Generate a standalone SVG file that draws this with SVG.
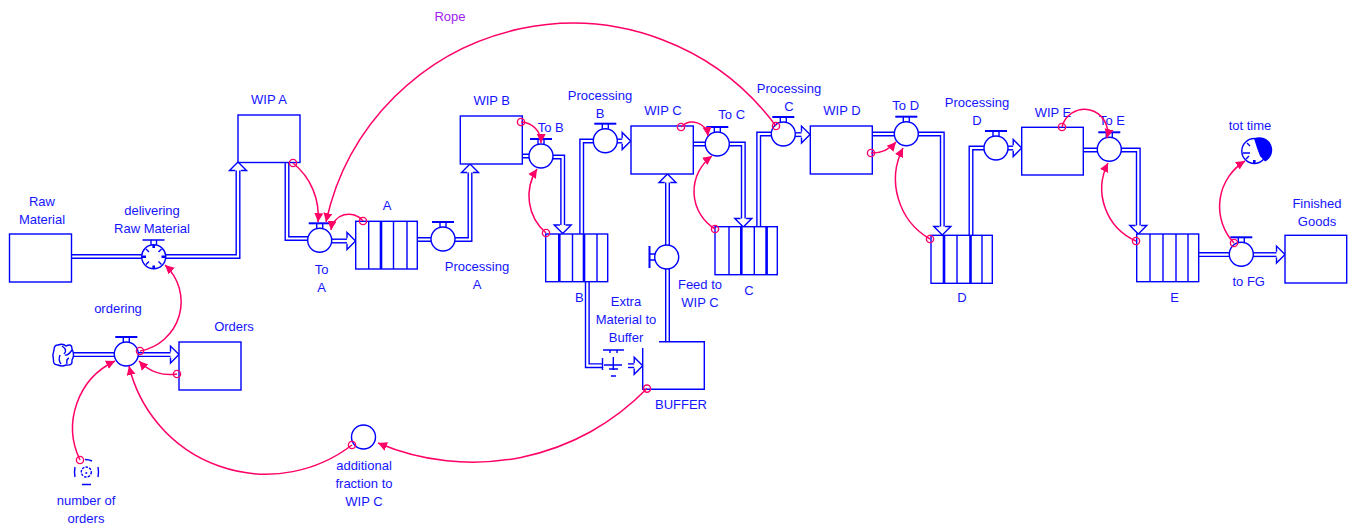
<svg xmlns="http://www.w3.org/2000/svg" xmlns:xlink="http://www.w3.org/1999/xlink" width="1351" height="525" viewBox="0 0 1351 525">
<style>
text{font-family:"Liberation Sans",Arial,sans-serif;font-size:13px;fill:#1414ff;text-anchor:middle}
.s{fill:#fff;stroke:#0000ff;stroke-width:1.4}
.n{fill:none;stroke:#0000ff;stroke-width:1.4}
.t{fill:none;stroke:#0000ff;stroke-width:2.6}
.po{fill:none;stroke:#0000ff;stroke-width:5}
.pi{fill:none;stroke:#fff;stroke-width:2.2}
.l{fill:none;stroke:#ff0066;stroke-width:1.5;marker-start:url(#o);marker-end:url(#a)}
</style>
<defs>
<marker id="a" markerUnits="userSpaceOnUse" markerWidth="12" markerHeight="12" refX="9" refY="5" orient="auto"><path d="M0 0.500L9 5L0 9.500z" fill="#ff0066"/></marker>
<marker id="o" markerUnits="userSpaceOnUse" markerWidth="10" markerHeight="10" refX="5" refY="5"><circle cx="5" cy="5" r="3.600" fill="none" stroke="#ff0066" stroke-width="1.400"/></marker>
<path id="h" class="s" d="M-8.500-2.800V-8.500L0 0L-8.500 8.500V2.800"/>
<g id="vt"><circle class="s" r="12"/><path class="n" d="M-3-12V-17M3-12V-17"/><path class="n" style="stroke-width:2" d="M-11-17H11"/></g>
</defs>
<g id="connectors">
<g class="po">
<path d="M72 256.500H238V168"/><path d="M287 162V238.500H310"/><path d="M330 241H349"/><path d="M417 239.500H470V170"/><path d="M522 156H532M550 157H562.700V227"/><path d="M581.700 234V141H596"/><path d="M615 141H624"/><path d="M693 144H708M727 144H743.300V221"/><path d="M758.700 227V134H772"/><path d="M793 134.600H803"/><path d="M872 134H896M916 134H942.300V229"/><path d="M971 235V148H986"/><path d="M1006 148H1015"/><path d="M1083 150H1100M1118 150H1138.300V228"/><path d="M1199 254.600H1232"/><path d="M1250 254.600H1279"/><path d="M74 354.600H116"/><path d="M136 354.600H172"/><path d="M587.300 282V365.700H602"/><path d="M628 365.700H636"/><path d="M667.500 342V180"/>
</g>
<g class="pi">
<path d="M72 256.500H238V168"/><path d="M287 162V238.500H310"/><path d="M330 241H349"/><path d="M417 239.500H470V170"/><path d="M522 156H532M550 157H562.700V227"/><path d="M581.700 234V141H596"/><path d="M615 141H624"/><path d="M693 144H708M727 144H743.300V221"/><path d="M758.700 227V134H772"/><path d="M793 134.600H803"/><path d="M872 134H896M916 134H942.300V229"/><path d="M971 235V148H986"/><path d="M1006 148H1015"/><path d="M1083 150H1100M1118 150H1138.300V228"/><path d="M1199 254.600H1232"/><path d="M1250 254.600H1279"/><path d="M74 354.600H116"/><path d="M136 354.600H172"/><path d="M587.300 282V365.700H602"/><path d="M628 365.700H636"/><path d="M667.500 342V180"/>
</g>
<use href="#h" transform="translate(238 162) rotate(-90)"/>
<use href="#h" transform="translate(355.500 241)"/>
<use href="#h" transform="translate(470 164) rotate(-90)"/>
<use href="#h" transform="translate(562.700 233.500) rotate(90)"/>
<use href="#h" transform="translate(630.700 141)"/>
<use href="#h" transform="translate(743.300 227) rotate(90)"/>
<use href="#h" transform="translate(810 134.600)"/>
<use href="#h" transform="translate(942.300 235) rotate(90)"/>
<use href="#h" transform="translate(1021.700 148)"/>
<use href="#h" transform="translate(1138.300 234) rotate(90)"/>
<use href="#h" transform="translate(1285 254.600)"/>
<use href="#h" transform="translate(179 354.600)"/>
<use href="#h" transform="translate(642.700 365.700)"/>
<use href="#h" transform="translate(667.500 174) rotate(-90)"/>
</g>
<g id="raw-material"><rect class="s" x="9.500" y="234" width="62" height="48"/><text x="42" y="206">Raw</text><text x="42" y="224">Material</text></g>
<g id="delivering"><circle class="s" cx="153.700" cy="256.700" r="12"/><path class="n" d="M151 244.700V240M156.500 244.700V240M142.500 240H164.500M146 249L149 252M161.500 249L158.500 252M146 264.500L149 261.500M161.500 264.500L158.500 261.500"/><path class="t" d="M141.700 256.700H146M161.500 256.700H165.700M153.700 244.700V248M153.700 265.500V268.700"/><text x="152" y="215">delivering</text><text x="152" y="233">Raw Material</text></g>
<g id="wip-a"><rect class="s" x="238" y="115" width="62" height="47.500"/><text x="269" y="104">WIP A</text></g>
<g id="to-a"><use href="#vt" transform="translate(319.700 240.300)"/><text x="321.700" y="274">To</text><text x="321.700" y="292">A</text></g>
<g id="a-conveyor"><rect class="s" x="355.700" y="221.300" width="61.600" height="47.700"/><path class="n" d="M368.700 221V269M393.500 221V269M407 221V269"/><path class="t" d="M381 221V269"/><text x="387" y="210">A</text></g>
<g id="processing-a"><use href="#vt" transform="translate(443 239)"/><text x="477" y="271">Processing</text><text x="477" y="289">A</text></g>
<g id="wip-b"><rect class="s" x="460.300" y="116" width="62" height="48"/><text x="491.700" y="104.700">WIP B</text></g>
<g id="to-b"><use href="#vt" transform="translate(541 156)"/><text x="550.700" y="132">To B</text></g>
<g id="b-conveyor"><rect class="s" x="545.700" y="234" width="62" height="47.700"/><path class="n" d="M572.500 234V282M597 234V282"/><path class="t" d="M559.300 234V282M584 234V282"/><text x="579.300" y="301.700">B</text></g>
<g id="processing-b"><use href="#vt" transform="translate(605.300 140.700)"/><text x="600" y="100">Processing</text><text x="600" y="118">B</text></g>
<g id="wip-c"><rect class="s" x="631" y="126" width="62.300" height="48"/><text x="663" y="115">WIP C</text></g>
<g id="to-c"><use href="#vt" transform="translate(717.300 144)"/><text x="731.700" y="119">To C</text></g>
<g id="c-conveyor"><rect class="s" x="715" y="226.700" width="62.300" height="48"/><path class="n" d="M729 227V275M754.300 227V275"/><path class="t" d="M741.300 227V275M766.600 227V275"/><text x="749" y="294.700">C</text></g>
<g id="processing-c"><use href="#vt" transform="translate(783.300 134)"/><text x="789" y="93">Processing</text><text x="789" y="111">C</text></g>
<g id="wip-d"><rect class="s" x="810.300" y="126" width="62" height="48"/><text x="842" y="115">WIP D</text></g>
<g id="to-d"><use href="#vt" transform="translate(906.300 133.700)"/><text x="905.700" y="110">To D</text></g>
<g id="d-conveyor"><rect class="s" x="931" y="235.300" width="61.300" height="48"/><path class="n" d="M957 235V283M982 235V283"/><path class="t" d="M944 235V283M970.500 235V283"/><text x="962" y="302">D</text></g>
<g id="processing-d"><use href="#vt" transform="translate(996 148)"/><text x="977" y="107">Processing</text><text x="977" y="125">D</text></g>
<g id="wip-e"><rect class="s" x="1021.700" y="127.300" width="61.600" height="47.700"/><text x="1053" y="117">WIP E</text></g>
<g id="to-e"><use href="#vt" transform="translate(1109.300 149.300)"/><text x="1112" y="125">To E</text></g>
<g id="e-conveyor"><rect class="s" x="1136.700" y="234" width="62" height="47.700"/><path class="n" d="M1150 234V282M1163 234V282M1176 234V282M1188 234V282"/><text x="1174.700" y="301.700">E</text></g>
<g id="to-fg"><use href="#vt" transform="translate(1241.300 254.300)"/><text x="1248.700" y="285.700">to FG</text></g>
<g id="finished-goods"><rect class="s" x="1285" y="235.300" width="61.700" height="47.700"/><text x="1317" y="208">Finished</text><text x="1317" y="226">Goods</text></g>
<g id="tot-time"><circle class="s" cx="1254.300" cy="151" r="12.500"/><path fill="#0000ff" d="M1254 138.600A12.500 12.500 0 0 1 1265 161.500L1260 156L1257 148z"/><path class="n" d="M1243 153H1250M1247 143L1250 146M1246 159L1249 156"/><path class="t" d="M1254.300 160V163.500"/><text x="1250" y="130">tot time</text></g>
<g id="ordering"><use href="#vt" transform="translate(126.300 354)"/><text x="118" y="313">ordering</text></g>
<g id="cloud"><path class="s" d="M58 345Q63 343 66 346Q72 343 72 349Q75 355 72 360Q73 366 66 365Q62 367 58 365Q53 365 53.500 360Q52 355 54 350Q54 345 58 345z"/><path class="n" d="M62 346Q68 350 64 354M72 350Q68 356 65 355M60 355Q58 360 61 364M67 364Q66 359 69 358"/></g>
<g id="orders"><rect class="s" x="179" y="342" width="62" height="48"/><text x="234" y="331">Orders</text></g>
<g id="number-of-orders"><path class="n" d="M85 459.500Q89 459.500 92 461M75 467Q74 472 75 477M98 467Q99 472 98 477M82 484.500H91"/><circle class="n" cx="86.300" cy="472" r="5" stroke-dasharray="2.500 1.200"/><circle cx="86.300" cy="473" r="1" fill="#0000ff"/><text x="86" y="505">number of</text><text x="86" y="523">orders</text></g>
<g id="additional-fraction"><circle class="s" cx="363.500" cy="437" r="12"/><text x="364" y="470">additional</text><text x="364" y="488">fraction to</text><text x="364" y="506">WIP C</text></g>
<g id="buffer"><path class="s" d="M659 341.700H704.300V389.300H642.700V348"/><text x="681" y="409">BUFFER</text></g>
<g id="feed-to-wip-c"><circle class="s" cx="666.700" cy="257" r="12"/><path class="n" style="stroke-width:2" d="M649.500 246V268"/><path class="n" d="M649.500 254H655M649.500 260H655"/><text x="700" y="288.700">Feed to</text><text x="700" y="306.700">WIP C</text></g>
<g id="extra-material"><path class="n" d="M603 350H624M610 350V353M617 350V353M602.500 358V370M613.300 357V370M604 365H622M609 369H618M611 376H616"/><text x="626" y="306">Extra</text><text x="626" y="324">Material to</text><text x="626" y="342">Buffer</text></g>
<g id="links">
<path class="l" d="M140 351A50 50 0 0 0 165 265"/>
<path class="l" d="M177 374A42 42 0 0 1 139 361"/>
<path class="l" d="M80 460A74 74 0 0 1 115 361"/>
<path class="l" d="M352 445A141 141 0 0 1 129 366"/>
<path class="l" d="M647 388.600A243 243 0 0 1 378 443"/>
<path class="l" d="M293 163A68 68 0 0 1 318 222"/>
<path class="l" d="M776 126A252.500 252.500 0 0 0 326 222"/>
<path class="l" d="M363 221A18 18 0 0 0 331 230"/>
<path class="l" d="M521 122A20.500 20.500 0 0 1 541 143"/>
<path class="l" d="M546 233A49 49 0 0 1 537 169"/>
<path class="l" d="M681 127A15.700 15.700 0 0 1 708 136"/>
<path class="l" d="M715 229A44 44 0 0 1 712 156"/>
<path class="l" d="M871 153A32 32 0 0 0 896 142"/>
<path class="l" d="M930 239A69 69 0 0 1 903 148"/>
<path class="l" d="M1062 127A23 23 0 0 1 1107 138"/>
<path class="l" d="M1136 241A57 57 0 0 1 1108 163"/>
<path class="l" d="M1234 243A53.400 53.400 0 0 1 1245 161"/>
</g>
<text id="rope" x="450" y="21" style="fill:#a020f0">Rope</text>
</svg>
